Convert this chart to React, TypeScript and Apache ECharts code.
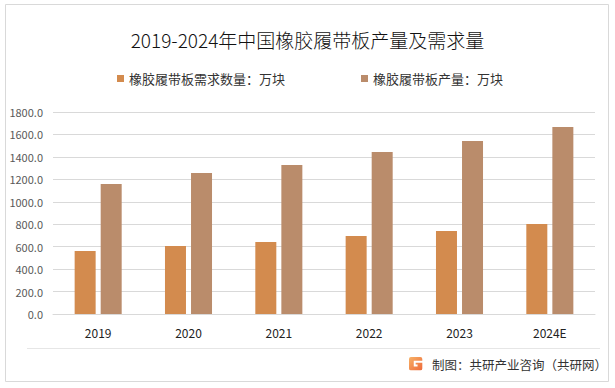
import React, { useEffect, useRef } from "react";
import * as echarts from "echarts";

const title = "2019-2024年中国橡胶履带板产量及需求量";
const categories = ["2019", "2020", "2021", "2022", "2023", "2024E"];
const demandName = "橡胶履带板需求数量：万块";
const productionName = "橡胶履带板产量：万块";
const demand = [561, 606, 642, 695, 740, 802];
const production = [1158, 1257, 1328, 1444, 1542, 1667];
const footer = "制图：共研产业咨询（共研网）";

const logoPath =
  "M2 0 H12 A2 2 0 0 1 14 2 V4 H5 V10 H9 V8 H7 V6 H14 V12 A2 2 0 0 1 12 14 H2 A2 2 0 0 1 0 12 V2 A2 2 0 0 1 2 0 Z";
echarts.graphic.registerShape("logo", echarts.graphic.extendPath(logoPath as any, {}) as any);

export default function App() {
  const ref = useRef<HTMLDivElement>(null);
  useEffect(() => {
    document.body.style.margin = "0";
    const chart = echarts.init(ref.current!, null, { renderer: "svg" });
    const font = "'Noto Sans CJK SC', 'Noto Sans', sans-serif";
    chart.setOption({
      animation: false,
      backgroundColor: "#ffffff",
      textStyle: { fontFamily: font },
      title: {
        text: title,
        left: "center",
        top: 25,
        textStyle: { fontSize: 19, fontWeight: 300, color: "#111111", fontFamily: font },
      },
      legend: {
        left: 112,
        top: 67,
        itemWidth: 7,
        itemHeight: 7,
        itemGap: 76,
        icon: "rect",
        textStyle: { fontSize: 13, color: "#333333", fontFamily: font },
        data: [demandName, productionName],
      },
      grid: { left: 53, right: 20, top: 112, bottom: 74, containLabel: false },
      xAxis: {
        type: "category",
        data: categories,
        axisLine: { show: true, lineStyle: { color: "#d9d9d9" } },
        axisTick: { show: false },
        axisLabel: { fontSize: 12, color: "#222222", margin: 12 },
      },
      yAxis: {
        type: "value",
        min: 0,
        max: 1800,
        interval: 200,
        axisLine: { show: false },
        axisTick: { show: false },
        splitLine: { lineStyle: { color: "#d9d9d9" } },
        axisLabel: {
          fontSize: 11,
          color: "#595959",
          margin: 10,
          formatter: (v: number) => v.toFixed(1),
        },
      },
      series: [
        {
          name: demandName,
          type: "bar",
          data: demand,
          barWidth: 21,
          barGap: "24%",
          itemStyle: { color: "#D38B4E" },
        },
        {
          name: productionName,
          type: "bar",
          data: production,
          barWidth: 21,
          itemStyle: { color: "#BA8C6B" },
        },
      ],
      graphic: [
        {
          type: "rect",
          shape: { x: 5.5, y: 4.5, width: 603, height: 377 },
          style: { fill: "none", stroke: "#d9d9d9", lineWidth: 1 },
          silent: true,
        },
        {
          type: "line",
          shape: { x1: 27, y1: 348.5, x2: 600, y2: 348.5 },
          style: { stroke: "#e6e6e6", lineWidth: 1 },
          silent: true,
        },
        {
          type: "logo",
          x: 409,
          y: 357,
          scaleX: 0.95,
          scaleY: 0.95,
          style: {
            fill: new echarts.graphic.LinearGradient(0, 0, 1, 1, [
              { offset: 0, color: "#F7B267" },
              { offset: 1, color: "#EE6A3A" },
            ]),
          },
          silent: true,
        },
        {
          type: "text",
          x: 432,
          y: 364,
          style: {
            text: footer,
            fontSize: 12.5,
            fill: "#333333",
            fontFamily: font,
            verticalAlign: "middle",
            align: "left",
          },
          silent: true,
        },
      ],
    });
    return () => chart.dispose();
  }, []);
  return <div ref={ref} style={{ width: 615, height: 388 }} />;
}
